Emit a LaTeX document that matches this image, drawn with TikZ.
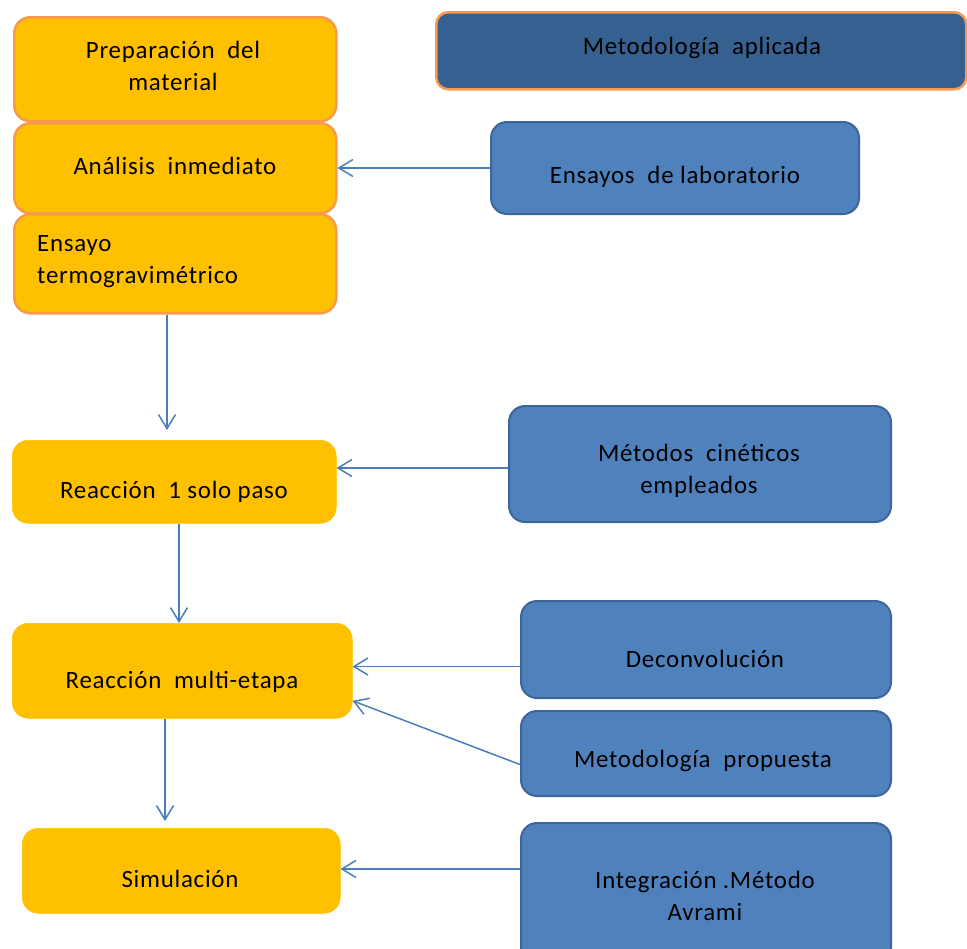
\documentclass[tikz,border=0pt]{standalone}
\usepackage{fontspec}
\setmainfont{Carlito}[LetterSpace=3]
\usetikzlibrary{arrows.meta}
\definecolor{ofill}{HTML}{FFC000}
\definecolor{oline}{HTML}{F79A4E}
\definecolor{dblue}{HTML}{36608F}
\definecolor{bfill}{HTML}{4F81BD}
\definecolor{bline}{HTML}{3A6699}
\definecolor{arrc}{HTML}{4A7EBB}
\begin{document}
\begin{tikzpicture}[x=1bp,y=-1bp,
  obox/.style={draw=oline,line width=2.5bp,fill=ofill,rounded corners=16bp,anchor=north west,inner sep=0pt},
  oplain/.style={draw=ofill,line width=0.5bp,fill=ofill,rounded corners=16bp,anchor=north west,inner sep=0pt},
  bbox/.style={draw=bline,line width=2bp,fill=bfill,rounded corners=16bp,anchor=north west,inner sep=0pt},
  tbox/.style={draw=oline,line width=2.5bp,fill=dblue,rounded corners=12bp,anchor=north west,inner sep=0pt},
  txt/.style={font=\fontsize{25}{32}\selectfont,align=center,inner sep=0pt,text=black},
  arr/.style={draw=arrc,line width=1.5bp,-{Straight Barb[length=14bp,width=17bp,line width=1.5bp]}}]
\useasboundingbox (0,0) rectangle (967,949);
% left column
\node[obox,minimum width=322bp,minimum height=104bp] (prep) at (13,16) {};
\node[obox,minimum width=322bp,minimum height=90bp] (anal) at (13,122) {};
\node[obox,minimum width=322bp,minimum height=99bp] (ens) at (13,213) {};
\node[oplain,minimum width=324bp,minimum height=83bp] (r1) at (12,440) {};
\node[oplain,minimum width=340bp,minimum height=95bp] (rm) at (12,623) {};
\node[oplain,minimum width=318bp,minimum height=85bp] (sim) at (22,828) {};
% right column
\node[tbox,minimum width=530bp,minimum height=77bp] (apl) at (435,11) {};
\node[bbox,minimum width=368bp,minimum height=92bp] (lab) at (490,121) {};
\node[bbox,minimum width=382bp,minimum height=116bp] (met) at (508,405) {};
\node[bbox,minimum width=370bp,minimum height=97bp] (dec) at (520,600) {};
\node[bbox,minimum width=370bp,minimum height=85bp] (pro) at (520,710) {};
\node[bbox,minimum width=370bp,minimum height=140bp] (int) at (520,822) {};
% texts
\node[txt] (tprep) at (173,66) {Preparación\ \ del\\material};
\node[txt] (tanal) at (175,166) {Análisis\ \ inmediato};
\node[txt,align=left,anchor=west] (tens) at (37,262) {Ensayo\\termogravimétrico};
\node[txt] (tr1) at (174,492) {Reacción\ \ 1 solo paso};
\node[txt] (trm) at (182,682) {Reacción\ \ multi-etapa};
\node[txt] (tsim) at (180,879) {Simulación};
\node[txt] (tapl) at (702,48) {Metodología\ \ aplicada};
\node[txt] (tlab) at (675,177) {Ensayos\ \ de laboratorio};
\node[txt] (tmet) at (699,471) {Métodos\ \ cinéticos\\empleados};
\node[txt] (tdec) at (705,659) {Deconvolución};
\node[txt] (tpro) at (703,761) {Metodología\ \ propuesta};
\node[txt] (tint) at (705,896) {Integración\ .Método\\Avrami};
% connectors
\coordinate (c1) at (167,430);
\coordinate (c2) at (179,623);
\coordinate (c3) at (165,821);
\draw[arr] (lab.west) -- (lab.west -| anal.east);
\draw[arr] (ens.south -| c1) -- (c1);
\draw[arr] ([yshift=-4bp]met.west) -- ([yshift=-4bp]met.west -| r1.east);
\draw[arr] (r1.south -| c2) -- (c2);
\draw[arr] ([yshift=-17bp]dec.west) -- ([yshift=-17bp]dec.west -| rm.east);
\draw[arr] ([yshift=-11bp]pro.west) -- ([yshift=-30bp]rm.east);
\draw[arr] (rm.south -| c3) -- (c3);
\draw[arr] ([yshift=24bp]int.west) -- ([yshift=24bp]int.west -| sim.east);
\end{tikzpicture}
\end{document}
